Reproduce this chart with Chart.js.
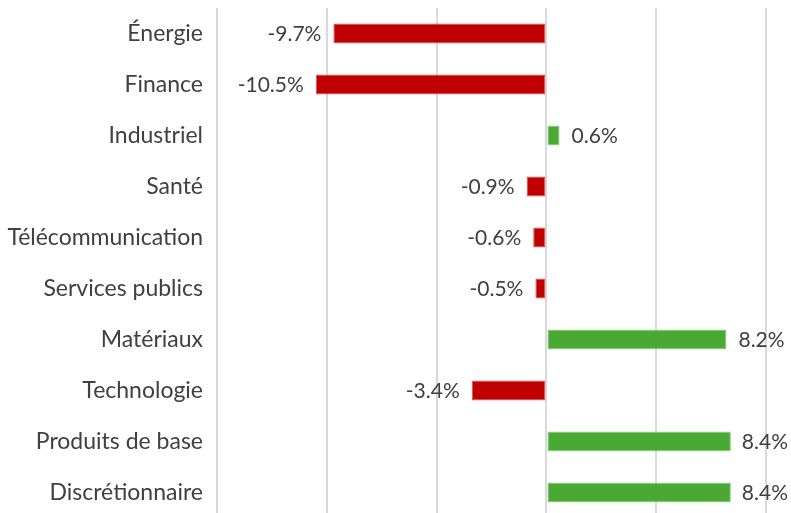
<!DOCTYPE html>
<html><head><meta charset="utf-8">
<script src="https://cdn.jsdelivr.net/npm/chart.js@4"></script>
<style>html,body{margin:0;padding:0;overflow:hidden;background:#fff}#w{width:791px;height:518px}</style>
</head><body><div id="w"><canvas id="c" width="791" height="518"></canvas></div>
<script>
const categories = ["Énergie","Finance","Industriel","Santé","Télécommunication","Services publics","Matériaux","Technologie","Produits de base","Discrétionnaire"];
const values = [-9.7,-10.5,0.6,-0.9,-0.6,-0.5,8.2,-3.4,8.4,8.4];
const xMin = -15, xMax = 10, xStep = 5;
const FONT = "Lato";
const RED = "#C00000", GREEN = "#4AA934";

const labelPlugin = {
  id: 'vlabels',
  afterDatasetsDraw(chart) {
    const ctx = chart.ctx;
    const meta = chart.getDatasetMeta(0);
    const area = chart.chartArea;
    ctx.save();
    ctx.font = "21px " + FONT;
    ctx.fillStyle = "#404040";
    ctx.textBaseline = "middle";
    ctx.textAlign = "left";
    meta.data.forEach((bar, i) => {
      const v = values[i];
      const txt = v.toFixed(1) + "%";
      const w = ctx.measureText(txt).width;
      let x;
      if (v < 0) { x = bar.x - 12 - w; if (x < area.left + 2) x = area.left + 2; }
      else { x = bar.x + 12; if (x + w > chart.width - 3) x = chart.width - 3 - w; }
      ctx.fillText(txt, x, bar.y + 1);
    });
    ctx.restore();
  }
};

new Chart(document.getElementById('c'), {
  type: 'bar',
  data: {
    labels: categories,
    datasets: [{
      data: values,
      backgroundColor: values.map(v => v < 0 ? RED : GREEN),
      borderColor: values.map(v => v < 0 ? "#D9534F" : "#8FD27F"),
      borderWidth: 1,
      borderSkipped: false,
      barPercentage: 0.39,
      categoryPercentage: 1.0
    }]
  },
  options: {
    indexAxis: 'y',
    responsive: false,
    animation: false,
    layout: { padding: { top: 8, right: 25, bottom: 0, left: 0 } },
    plugins: { legend: { display: false }, tooltip: { enabled: false } },
    scales: {
      x: {
        min: xMin, max: xMax,
        ticks: { display: false, stepSize: xStep },
        grid: { color: "#D9D9D9", lineWidth: 2, drawTicks: false },
        border: { display: false },
        afterFit(s) { s.height = 0; s.paddingLeft = 0; s.paddingRight = 0; }
      },
      y: {
        ticks: { font: { family: FONT, size: 23 }, color: "#404040", padding: 14 },
        grid: { display: false, drawTicks: false },
        border: { display: false },
        afterFit(s) { s.width = 217; s.paddingTop = 0; s.paddingBottom = 0; }
      }
    }
  },
  plugins: [labelPlugin]
});
</script></body></html>
